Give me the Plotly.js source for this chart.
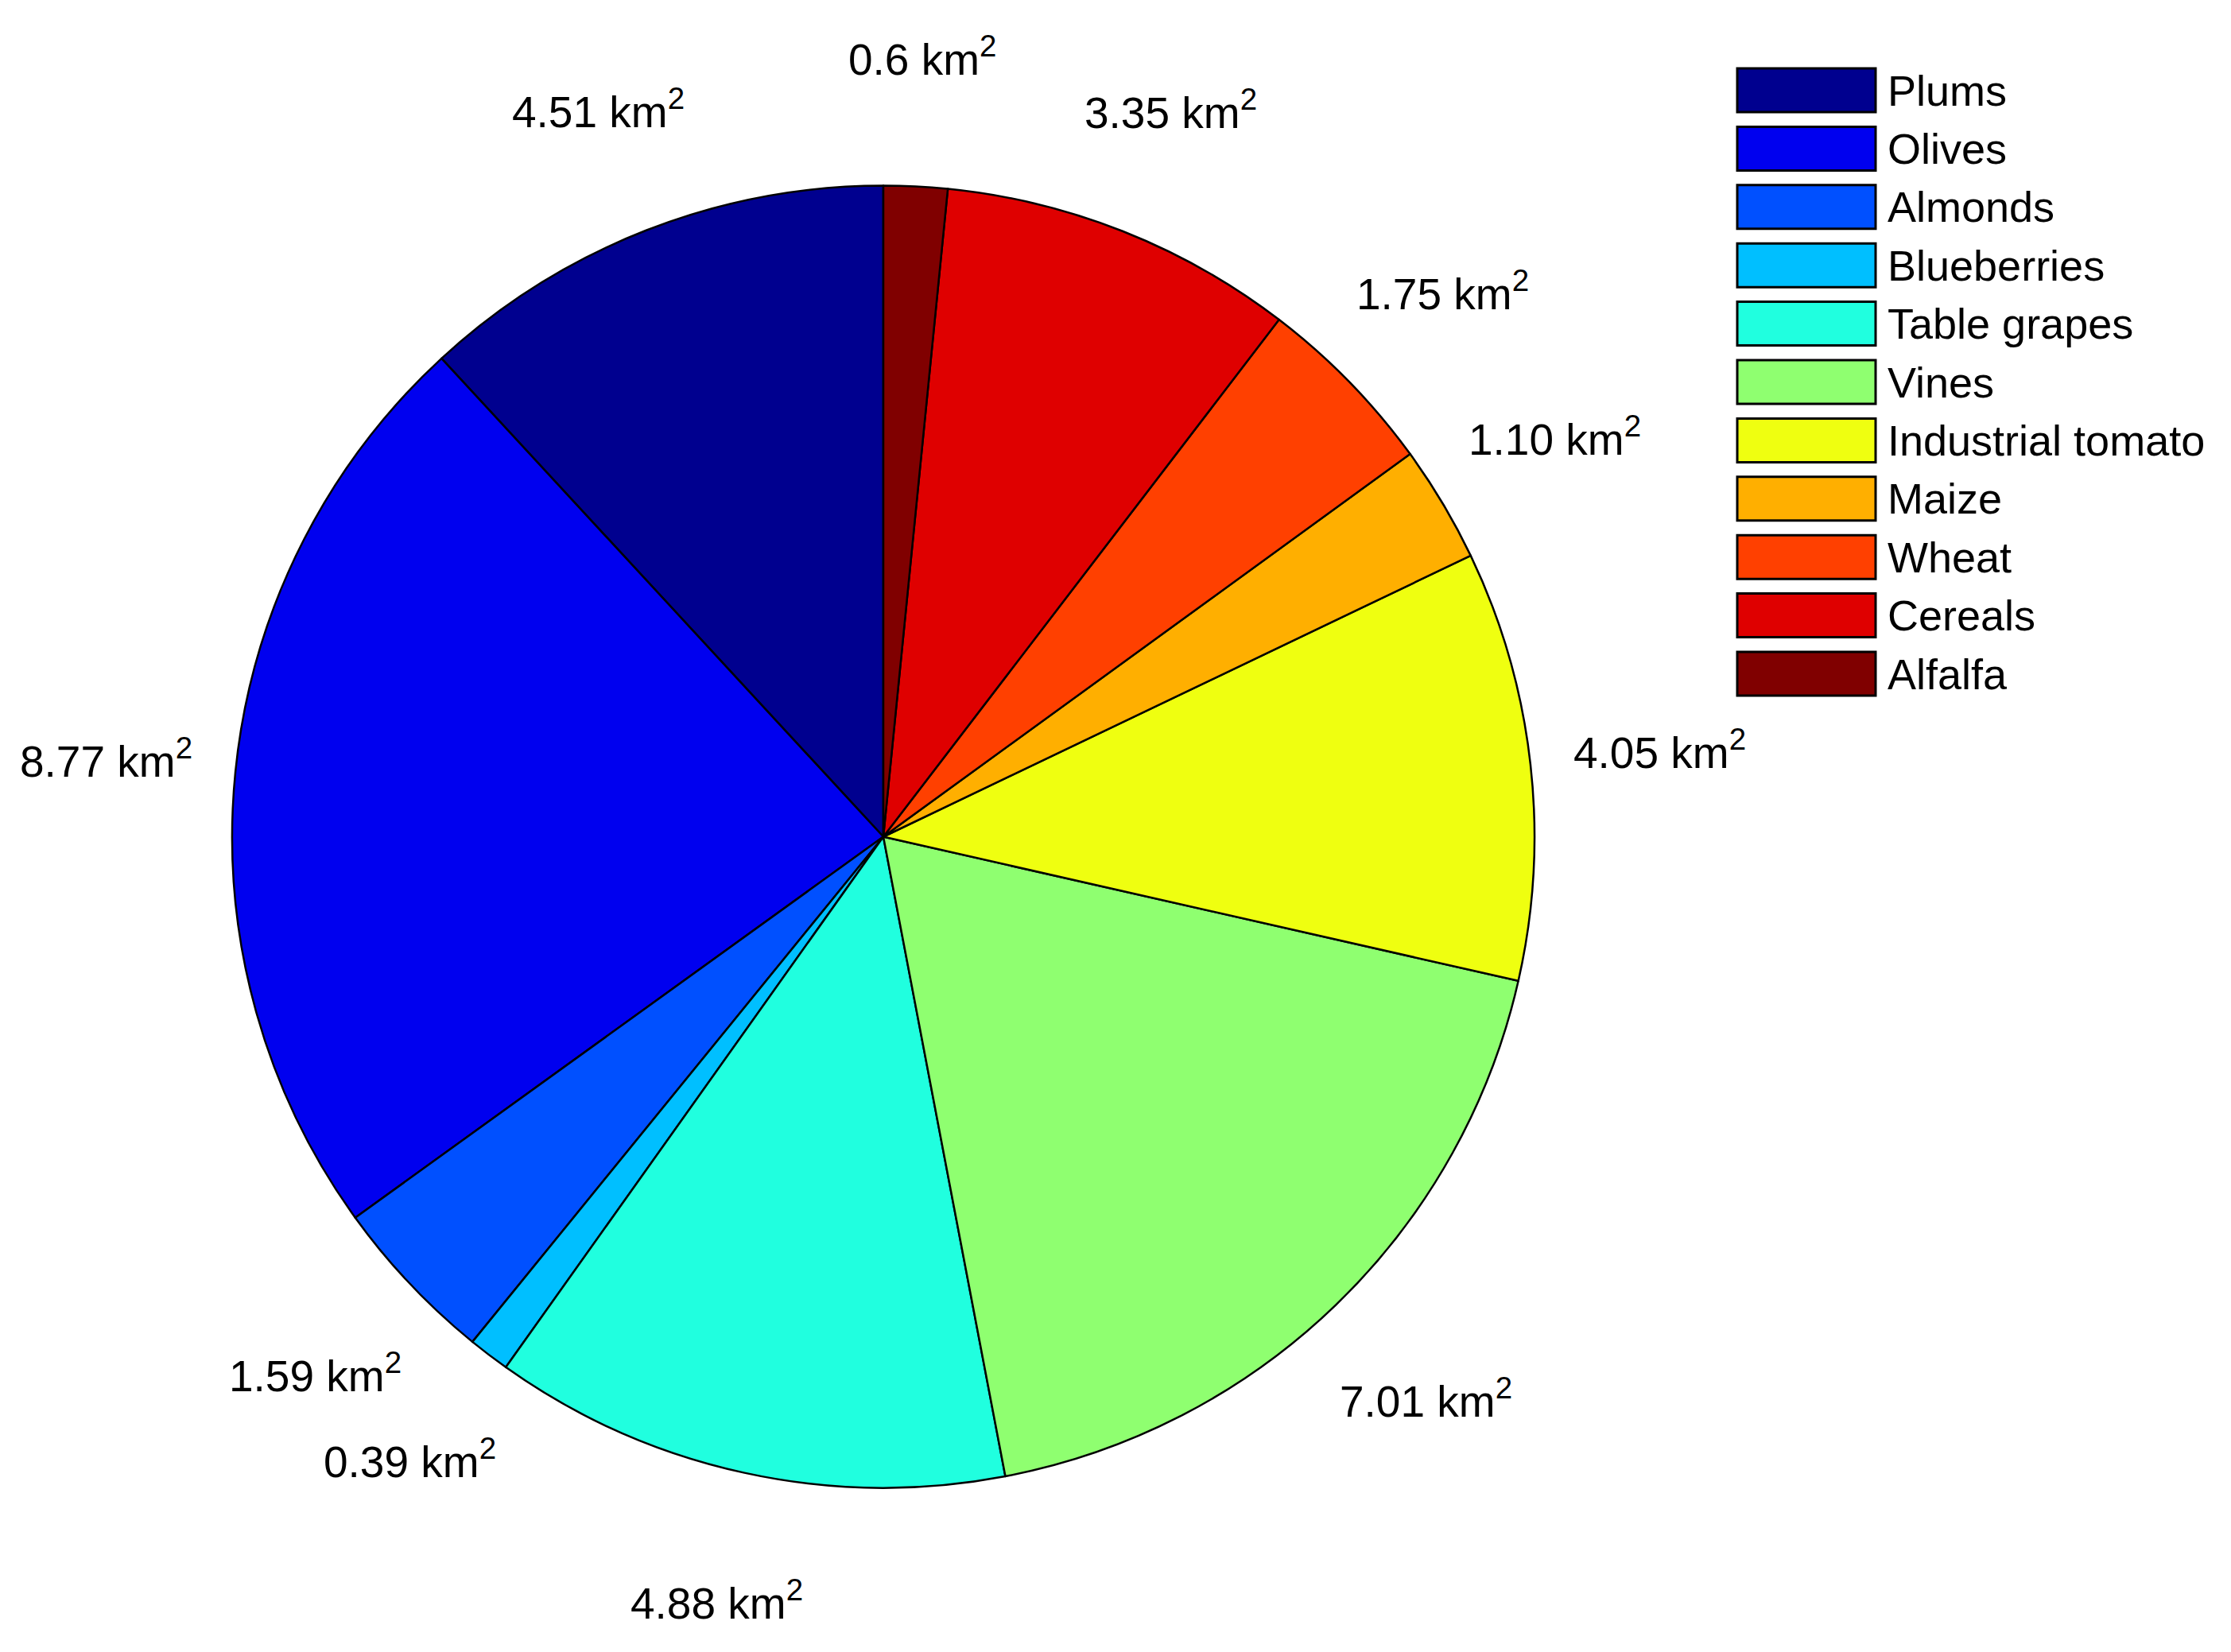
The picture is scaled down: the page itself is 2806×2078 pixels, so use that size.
<!DOCTYPE html>
<html>
<head>
<meta charset="utf-8">
<script src="https://cdn.plot.ly/plotly-3.0.1.min.js"></script>
<style>
  body { margin: 0; background: #fff; }
  #chart { width: 2806px; height: 2078px; }
</style>
</head>
<body>
<div id="chart"></div>
<script>
// crop areas (km2), in the order the slices run counterclockwise from 12 o'clock
const crops = ['Plums', 'Olives', 'Almonds', 'Blueberries', 'Table grapes', 'Vines',
               'Industrial tomato', 'Maize', 'Wheat', 'Cereals', 'Alfalfa'];
const areas = [4.51, 8.77, 1.59, 0.39, 4.88, 7.01, 4.05, 1.10, 1.75, 3.35, 0.6];
const areaLabels = ['4.51', '8.77', '1.59', '0.39', '4.88', '7.01', '4.05', '1.10', '1.75', '3.35', '0.6'];

// jet colormap, one colour per slice
const colors = ['#00008F', '#0000EF', '#0050FF', '#00BFFF', '#20FFDF', '#8FFF70',
                '#EFFF10', '#FFAF00', '#FF4000', '#DF0000', '#800000'];

const W = 2806, H = 2078;
// pie placement in pixels
const cx = 1111, cy = 1052.5, R = 819;
const font = 'Liberation Sans, Arial, Helvetica, sans-serif';

const total = areas.reduce((a, b) => a + b, 0);

// plotly puts the first ccw slice on the clockwise side of 12 o'clock,
// so turn the pie back by that slice to make it start at the top
const trace = {
    type: 'pie',
    labels: crops,
    values: areas,
    sort: false,
    direction: 'counterclockwise',
    rotation: -360 * areas[0] / total,
    textinfo: 'none',
    hoverinfo: 'none',
    marker: { colors: colors, line: { color: '#000', width: 2.5 } },
    domain: {
        x: [(cx - R) / W, (cx + R) / W],
        y: [1 - (cy + R) / H, 1 - (cy - R) / H]
    },
    showlegend: false
};

// labels sit at 1.2 radius on each slice's bisector
const annotations = [];
let cum = 0;
for (let i = 0; i < areas.length; i++) {
    const mid = (cum + areas[i] / 2) / total;
    cum += areas[i];
    const ang = (90 + 360 * mid) * Math.PI / 180;
    const px = cx + 1.2 * R * Math.cos(ang);
    const py = cy - 1.2 * R * Math.sin(ang);
    annotations.push({
        xref: 'paper', yref: 'paper',
        x: px / W, y: 1 - py / H,
        xanchor: 'center', yanchor: 'middle',
        text: areaLabels[i] + ' km<sup>2</sup>',
        showarrow: false,
        font: { family: font, size: 55, color: '#000' }
    });
}

// legend drawn by hand: wide colour boxes with black borders
const shapes = [];
const boxX0 = 2185, boxX1 = 2359, boxH = 55, rowTop = 86, rowStep = 73.4;
for (let i = 0; i < crops.length; i++) {
    const top = rowTop + i * rowStep;
    shapes.push({
        type: 'rect', xref: 'paper', yref: 'paper',
        x0: boxX0 / W, x1: boxX1 / W,
        y0: 1 - (top + boxH) / H, y1: 1 - top / H,
        fillcolor: colors[i],
        line: { color: '#000', width: 3 }
    });
    annotations.push({
        xref: 'paper', yref: 'paper',
        x: 2372 / W, y: 1 - (top + boxH / 2) / H,
        xanchor: 'left', yanchor: 'middle',
        text: crops[i],
        showarrow: false,
        font: { family: font, size: 54, color: '#000' }
    });
}

const layout = {
    width: W,
    height: H,
    margin: { l: 0, r: 0, t: 0, b: 0 },
    paper_bgcolor: '#fff',
    plot_bgcolor: '#fff',
    showlegend: false,
    annotations: annotations,
    shapes: shapes
};

Plotly.newPlot('chart', [trace], layout, { displayModeBar: false, staticPlot: true });
</script>
</body>
</html>
